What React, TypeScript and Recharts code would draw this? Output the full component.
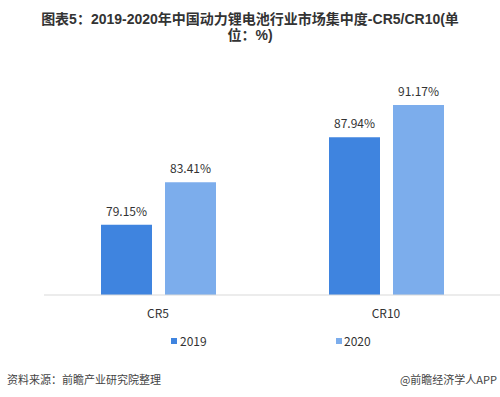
import React from 'react';
import { BarChart, Bar, XAxis, YAxis, Legend, LabelList } from 'recharts';

// 数据
const categories = ['CR5', 'CR10'];
const values2019 = [79.15, 87.94];
const values2020 = [83.41, 91.17];

const titleLines = ['图表5：2019-2020年中国动力锂电池行业市场集中度-CR5/CR10(单', '位：%)'];

const COLORS = {
  y2019: '#3F84DF',
  y2020: '#7CADEC',
};

const data = categories.map((name, i) => ({
  name,
  v2019: values2019[i],
  v2020: values2020[i],
}));

const FONT = '"Noto Sans CJK SC", "Noto Sans", sans-serif';
const TITLE_FONT = '"Liberation Sans", "Noto Sans CJK SC", sans-serif';

const renderLegend = () => (
  <div style={{ position: 'relative', height: 16, fontFamily: FONT, fontSize: 12, color: '#333' }}>
    <div style={{ position: 'absolute', left: 171, top: 0, display: 'flex', alignItems: 'center' }}>
      <span style={{ width: 6, height: 6, background: COLORS.y2019, marginRight: 3 }} />
      <span>2019</span>
    </div>
    <div style={{ position: 'absolute', left: 336, top: 0, display: 'flex', alignItems: 'center' }}>
      <span style={{ width: 6, height: 6, background: COLORS.y2020, marginRight: 2 }} />
      <span>2020</span>
    </div>
  </div>
);

const App: React.FC = () => {
  return (
    <div style={{ position: 'absolute', left: 0, top: 0, width: 500, height: 397, background: '#fff', fontFamily: FONT }}>
      {titleLines.map((t, i) => (
        <div
          key={i}
          style={{
            position: 'absolute', top: 11 + i * 16, left: 0, width: 500, height: 16, textAlign: 'center',
            fontSize: 14, fontWeight: 700, color: '#333', lineHeight: '16px', fontFamily: TITLE_FONT,
          }}
        >
          {t}
        </div>
      ))}

      <BarChart
        width={500}
        height={397}
        data={data}
        margin={{ top: 56, right: 0, left: 44, bottom: 56 }}
        barGap={13}
        barSize={51}
      >
        <XAxis
          dataKey="name"
          axisLine={{ stroke: '#d9d9d9' }}
          tickLine={false}
          tickMargin={8}
          tick={{ fontSize: 12, fill: '#333', fontFamily: FONT }}
          height={30}
        />
        <YAxis hide domain={[72.1, 96.1]} allowDataOverflow />
        <Legend
          verticalAlign="bottom"
          content={renderLegend}
          wrapperStyle={{ position: 'absolute', top: 332, left: 0, width: 500, bottom: 'auto' }}
        />
        <Bar dataKey="v2019" name="2019" fill={COLORS.y2019} isAnimationActive={false}>
          <LabelList
            dataKey="v2019"
            position="top"
            offset={9}
            formatter={(v: any) => `${Number(v).toFixed(2)}%`}
            style={{ fontSize: 12, fill: '#333', fontFamily: FONT }}
          />
        </Bar>
        <Bar dataKey="v2020" name="2020" fill={COLORS.y2020} isAnimationActive={false}>
          <LabelList
            dataKey="v2020"
            position="top"
            offset={9}
            formatter={(v: any) => `${Number(v).toFixed(2)}%`}
            style={{ fontSize: 12, fill: '#333', fontFamily: FONT }}
          />
        </Bar>
      </BarChart>

      <div style={{ position: 'absolute', top: 371, left: 7, fontSize: 11, color: '#444' }}>
        资料来源：前瞻产业研究院整理
      </div>
      <div style={{ position: 'absolute', top: 371, right: 3, fontSize: 11, color: '#444' }}>
        @前瞻经济学人APP
      </div>
    </div>
  );
};

export default App;
